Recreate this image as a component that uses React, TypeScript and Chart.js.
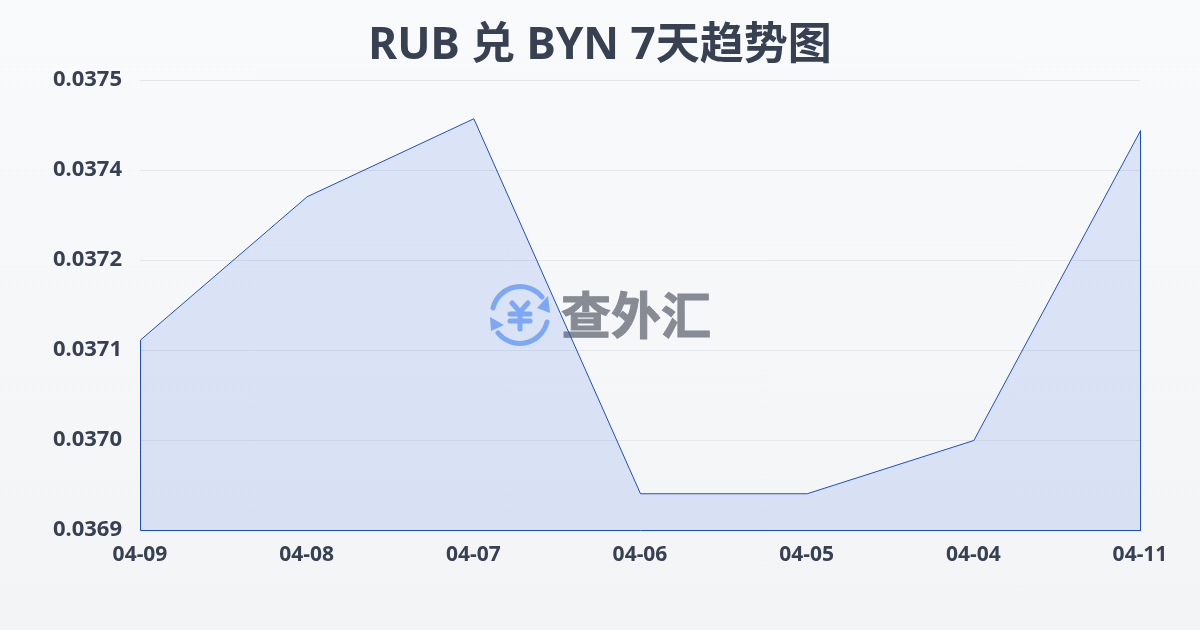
import React, { useEffect, useRef } from "react";
import { Chart, registerables } from "chart.js";

Chart.register(...registerables);

const titleText = "RUB 兑 BYN 7天趋势图";
const categories = ["04-09", "04-08", "04-07", "04-06", "04-05", "04-04", "04-11"];
const rates = [0.037154, 0.037345, 0.037449, 0.036949, 0.036949, 0.03702, 0.037433];
const yTickLabels = ["0.0369", "0.0370", "0.0371", "0.0372", "0.0374", "0.0375"];
const yMin = 0.0369;
const yMax = 0.0375;
const yStep = 0.00012;
const watermarkText = "查外汇";

const FONT = '"Noto Sans", "Noto Sans CJK SC", sans-serif';
const INK = "#374151";
const ICON = "#8ab4f8";

const crispMarks = {
  id: "crispMarks",
  beforeDatasetsDraw(chart: any) {
    chart.ctx.save();
    chart.ctx.translate(0.5, 0.5);
  },
  afterDatasetsDraw(chart: any) {
    chart.ctx.restore();
  },
};

export default function App() {
  const ref = useRef<HTMLCanvasElement>(null);
  useEffect(() => {
    const first = categories[0];
    const last = categories[categories.length - 1];
    const outline = [
      { x: first, y: yMin },
      ...categories.map((c, i) => ({ x: c, y: rates[i] })),
      { x: last, y: yMin },
      { x: first, y: yMin },
    ];
    const chart = new Chart(ref.current!, {
      type: "line",
      plugins: [crispMarks],
      data: {
        labels: categories,
        datasets: [
          {
            data: rates,
            borderWidth: 0,
            pointRadius: 0,
            tension: 0,
            fill: "start",
            backgroundColor: "rgba(37,92,225,0.135)",
            clip: false,
          },
          {
            data: outline as any,
            borderColor: "#1d50bd",
            borderWidth: 1,
            pointRadius: 0,
            tension: 0,
            fill: false,
            clip: false,
          },
        ],
      },
      options: {
        responsive: false,
        animation: false,
        layout: { padding: 0 },
        plugins: {
          legend: { display: false },
          tooltip: { enabled: false },
          title: {
            display: true,
            text: titleText,
            color: INK,
            font: { family: FONT, size: 44, weight: "bold", lineHeight: 1.2 },
            padding: { top: 20, bottom: 7.21 },
          },
        },
        scales: {
          x: {
            offset: false,
            grid: { display: false },
            border: { display: false },
            afterFit: (s: any) => { s.height = 100; },
            ticks: {
              color: INK,
              font: { family: FONT, size: 21, weight: "bold" },
              maxRotation: 0,
              autoSkip: false,
              padding: 4,
            },
          },
          y: {
            min: yMin,
            max: yMax,
            grid: { color: "#e5e7eb", lineWidth: 1, drawTicks: false },
            border: { display: false },
            afterFit: (s: any) => { s.width = 140; },
            ticks: {
              stepSize: yStep,
              color: INK,
              font: { family: FONT, size: 22, weight: "bold" },
              padding: 18,
              callback: (_v: any, i: number) => yTickLabels[i],
            },
          },
          rightGutter: {
            type: "linear",
            position: "right",
            min: yMin,
            max: yMax,
            grid: { display: false },
            border: { display: false },
            ticks: { display: false },
            afterFit: (s: any) => { s.width = 60; },
          },
        },
      },
    });
    return () => chart.destroy();
  }, []);

  return (
    <div
      style={{
        position: "fixed",
        left: 0,
        top: 0,
        width: 1200,
        height: 630,
        background: "linear-gradient(180deg,#f9fafc 0%,#f3f4f6 100%)",
      }}
    >
      <svg width={1200} height={630} style={{ position: "absolute", left: 0, top: 0 }}>
        <g fill="none" stroke={ICON} strokeWidth={5} strokeLinecap="round">
          <path d="M 493 308 A 28 28 0 0 1 542 297" />
          <path d="M 547 322 A 28 28 0 0 1 498 333" />
          <path d="M 512 303 L 520 312 L 528 303 M 510 314 H 530 M 510 321 H 530 M 520 312 V 329" />
        </g>
        <path d="M 548 296 L 550 313 L 537 308 Z" fill={ICON} />
        <path d="M 490 317 L 491 331 L 504 325 Z" fill={ICON} />
        <text
          x={636}
          y={334}
          textAnchor="middle"
          fontFamily='"Noto Sans CJK SC"'
          fontWeight={700}
          fontSize={50}
          fill="#868b94"
          stroke="#868b94"
          strokeWidth={1}
        >
          {watermarkText}
        </text>
      </svg>
      <canvas
        ref={ref}
        width={1200}
        height={630}
        style={{ position: "absolute", left: 0, top: 0, display: "block" }}
      />
    </div>
  );
}
